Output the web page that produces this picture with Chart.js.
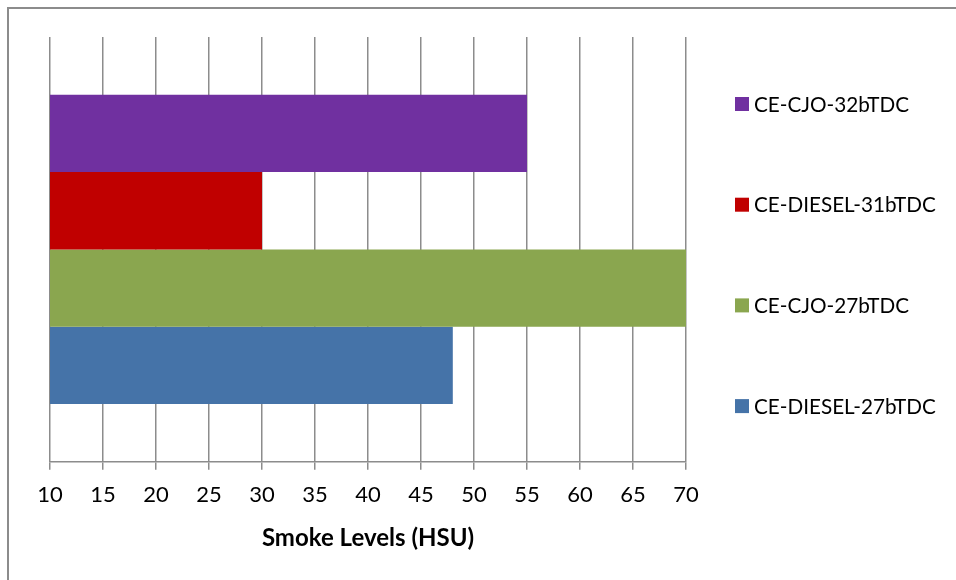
<!DOCTYPE html>
<html>
<head>
<meta charset="utf-8">
<script src="https://cdn.jsdelivr.net/npm/chart.js@4/dist/chart.umd.min.js"></script>
<style>
  html, body { margin: 0; padding: 0; background: #fff; overflow: hidden; }
  #wrap { position: relative; width: 956px; height: 580px; }
  #frame { position: absolute; left: 7px; top: 7px; width: 980px; height: 620px;
           border-left: 2px solid #8c8c8c; border-top: 2px solid #8c8c8c; box-sizing: border-box; }
  canvas { position: absolute; left: 0; top: 0; }
</style>
</head>
<body>
<div id="wrap">
  <div id="frame"></div>
  <canvas id="chart" width="956" height="580"></canvas>
</div>
<script>
// Smoke opacity for each engine configuration (Hartridge smoke units)
const categories = ['Smoke'];
const seriesNames = ['CE-CJO-32bTDC', 'CE-DIESEL-31bTDC', 'CE-CJO-27bTDC', 'CE-DIESEL-27bTDC'];
const seriesValues = [55, 30, 70, 48];
const seriesColors = ['#7030A0', '#C00000', '#8AA64F', '#4573A8'];
const xTicks = [10, 15, 20, 25, 30, 35, 40, 45, 50, 55, 60, 65, 70];
const xTitle = 'Smoke Levels (HSU)';

const FONT = 'Lato, "Open Sans", sans-serif';
const GRID = '#8c8c8c';

// Legend drawn as a vertical column to the right of the plot
const sideLegend = {
  id: 'sideLegend',
  afterDraw(chart) {
    const ctx = chart.ctx;
    const area = chart.chartArea;
    const x0 = area.right + 49;
    const yStart = 104, step = 100.7;
    ctx.save();
    ctx.font = '20.7px ' + FONT;
    ctx.textBaseline = 'middle';
    ctx.textAlign = 'left';
    chart.data.datasets.forEach((ds, i) => {
      const y = yStart + i * step;
      ctx.fillStyle = ds.backgroundColor;
      ctx.fillRect(x0, y - 7, 14, 14);
      ctx.fillStyle = '#000';
      ctx.fillText(ds.label, x0 + 19, y + 1);
    });
    ctx.restore();
  }
};

new Chart(document.getElementById('chart'), {
  type: 'bar',
  data: {
    labels: categories,
    datasets: seriesNames.map((name, i) => ({
      label: name,
      data: [seriesValues[i]],
      backgroundColor: seriesColors[i],
      borderWidth: 0,
      categoryPercentage: 0.728,
      barPercentage: 1
    }))
  },
  options: {
    indexAxis: 'y',
    responsive: false,
    animation: false,
    layout: { padding: { left: 50, top: 37, right: 270, bottom: 27 } },
    plugins: {
      legend: { display: false },
      tooltip: { enabled: false }
    },
    scales: {
      x: {
        type: 'linear',
        min: xTicks[0],
        max: xTicks[xTicks.length - 1],
        afterBuildTicks(scale) { scale.ticks = xTicks.map(v => ({ value: v })); },
        grid: { color: GRID, lineWidth: 1.5, tickLength: 8, drawTicks: true },
        border: { display: true, color: GRID, width: 1.5 },
        ticks: { color: '#000', font: { family: FONT, size: 22 }, padding: 12, maxRotation: 0 },
        title: {
          display: true, text: xTitle, color: '#000',
          font: { family: FONT, size: 24, weight: 'bold' },
          padding: { top: 4, bottom: 0 }
        }
      },
      y: { display: false }
    }
  },
  plugins: [sideLegend]
});
</script>
</body>
</html>
